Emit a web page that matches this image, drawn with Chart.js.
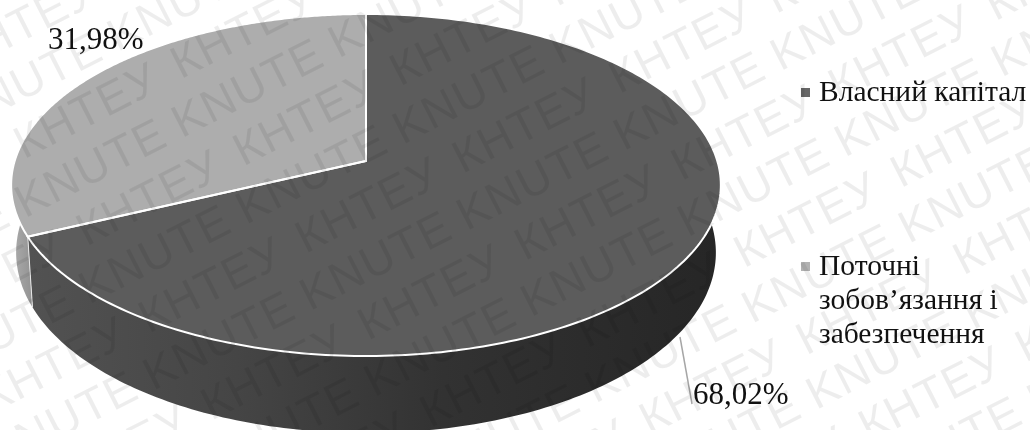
<!DOCTYPE html>
<html>
<head>
<meta charset="utf-8">
<style>
  html, body { margin: 0; padding: 0; background: #fff; }
  canvas { display: block; }
</style>
<script src="https://cdn.jsdelivr.net/npm/chart.js"></script>
</head>
<body>
<canvas id="chart" width="1030" height="430"></canvas>
<script>
const categories = ['Власний капітал', ['Поточні', 'зобов’язання і', 'забезпечення']];
const shares = [68.02, 31.98];
const shareLabels = ['68,02%', '31,98%'];
const stampWords = ['KNUTE', 'КНТЕУ'];

const faceColors = ['#5c5c5c', '#adadad'];
const legendColors = ['#666666', '#b2b2b2'];
const wallStops = [
  [[0, '#525252'], [0.3, '#454545'], [0.6, '#323232'], [1, '#262626']],
  [[0, '#adadad'], [1, '#8f8f8f']]
];

// tilt of the disc: how much the near edge swells and how wide it is against its height
const tilt = 0.1404;
const widen = 2.39;
const SERIF = '"Liberation Serif", serif';

// point on the top rim for a Chart.js arc angle (0 rad points right, clockwise)
function rim(arc, angle) {
  const u = Math.cos(angle), v = Math.sin(angle);
  const w = 1 - tilt * v;
  return {
    x: arc.x + arc.outerRadius * widen * u / w,
    y: arc.y + arc.outerRadius * (1 + tilt) * v / w,
    v: v
  };
}

// same point on the lower rim of the disc
function lowerRim(arc, angle) {
  const p = rim(arc, angle);
  return {
    x: arc.x + (p.x - arc.x) * 0.986,
    y: p.y + 66 + 11 * p.v
  };
}

function sweep(arc, fn) {
  const pts = [];
  const steps = 240;
  for (let i = 0; i <= steps; i++) {
    pts.push(fn(arc, arc.startAngle + (arc.endAngle - arc.startAngle) * i / steps));
  }
  return pts;
}

function drawStamp(ctx) {
  ctx.save();
  ctx.rotate(-27 * Math.PI / 180);
  ctx.font = '46px "Liberation Sans", sans-serif';
  ctx.letterSpacing = '1.5px';
  ctx.fillStyle = 'rgba(0, 0, 0, 0.07)';
  ctx.textAlign = 'left';
  const period = 176;
  for (let k = -4; k <= 14; k++) {
    const odd = Math.abs(k) % 2 === 1;
    const start = odd ? 148 + 8 * k : 114 + 9 * k;
    const first = start - period * Math.ceil((start + 400) / period);
    for (let a = first; a < 1200; a += period) {
      ctx.fillText(stampWords[odd ? 1 : 0], a - 15, 189 + 53 * k + 17);
    }
  }
  ctx.restore();
}

// Draws the pie's arcs as a tilted disc, walls first and then the top faces
const disc = {
  id: 'disc',
  beforeDatasetDraw(chart) {
    const ctx = chart.ctx;
    const arcs = chart.getDatasetMeta(0).data;

    arcs.forEach((arc, i) => {
      const top = sweep(arc, rim);
      const low = sweep(arc, lowerRim);
      const grad = ctx.createLinearGradient(i === 0 ? 30 : 11, 0, i === 0 ? 720 : 35, 0);
      wallStops[i].forEach(s => grad.addColorStop(s[0], s[1]));
      ctx.beginPath();
      top.forEach((p, k) => k ? ctx.lineTo(p.x, p.y) : ctx.moveTo(p.x, p.y));
      low.reverse().forEach(p => ctx.lineTo(p.x, p.y));
      ctx.closePath();
      ctx.fillStyle = grad;
      ctx.fill();
    });

    // seam between the two walls
    const seamA = rim(arcs[1], arcs[1].startAngle);
    const seamB = lowerRim(arcs[1], arcs[1].startAngle);
    ctx.beginPath();
    ctx.moveTo(seamA.x, seamA.y);
    ctx.lineTo(seamB.x, seamB.y);
    ctx.strokeStyle = '#e8e8e8';
    ctx.lineWidth = 1;
    ctx.stroke();

    arcs.forEach((arc, i) => {
      ctx.beginPath();
      ctx.moveTo(arc.x, arc.y);
      sweep(arc, rim).forEach(p => ctx.lineTo(p.x, p.y));
      ctx.closePath();
      ctx.fillStyle = faceColors[i];
      ctx.fill();
    });
    arcs.forEach(arc => {
      ctx.beginPath();
      ctx.moveTo(arc.x, arc.y);
      sweep(arc, rim).forEach(p => ctx.lineTo(p.x, p.y));
      ctx.closePath();
      ctx.strokeStyle = '#ffffff';
      ctx.lineWidth = 2;
      ctx.stroke();
    });
    return false;
  },
  afterDraw(chart) {
    const ctx = chart.ctx;
    ctx.save();

    // leader line of the big slice
    ctx.beginPath();
    ctx.moveTo(680, 337);
    ctx.lineTo(692, 404);
    ctx.strokeStyle = '#a6a6a6';
    ctx.lineWidth = 1.5;
    ctx.stroke();

    ctx.fillStyle = '#111111';
    ctx.textBaseline = 'alphabetic';
    ctx.textAlign = 'left';
    ctx.font = '31px ' + SERIF;
    ctx.fillText(shareLabels[0], 693, 404);
    ctx.fillText(shareLabels[1], 48, 49);

    // legend
    const legendY = [101, 275];
    ctx.font = '29.5px ' + SERIF;
    categories.forEach((label, i) => {
      ctx.fillStyle = legendColors[i];
      ctx.fillRect(801, legendY[i] - 13, 9, 9);
      ctx.fillStyle = '#111111';
      [].concat(label).forEach((line, k) => ctx.fillText(line, 819, legendY[i] + k * 34));
    });

    // repeated stamp across the whole page
    drawStamp(ctx);
    ctx.restore();
  }
};

new Chart(document.getElementById('chart'), {
  type: 'pie',
  data: {
    labels: categories,
    datasets: [{ data: shares, backgroundColor: faceColors, borderWidth: 0 }]
  },
  options: {
    responsive: false,
    animation: false,
    layout: { padding: { left: 219, right: 517, top: 14, bottom: 122 } },
    plugins: { legend: { display: false }, tooltip: { enabled: false } }
  },
  plugins: [disc]
});
</script>
</body>
</html>
